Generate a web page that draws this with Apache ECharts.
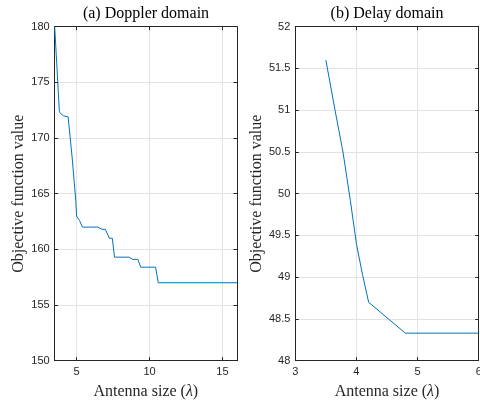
<!DOCTYPE html>
<html>
<head>
<meta charset="utf-8">
<script src="https://cdn.jsdelivr.net/npm/echarts@6/dist/echarts.min.js"></script>
<style>
  html, body { margin: 0; padding: 0; background: #fff; }
  #chart { width: 480px; height: 401px; }
</style>
</head>
<body>
<div id="chart"></div>
<script>
// Doppler-domain objective value versus antenna size (in wavelengths)
const dopplerSize  = [3.5, 3.82, 3.9, 4.1, 4.42, 4.7, 4.95, 5.0, 5.2, 5.4, 6.45, 6.75, 6.97, 7.25, 7.45, 7.6, 8.6, 8.85, 9.2, 9.4, 10.42, 10.6, 16];
const dopplerValue = [180, 172.4, 172.2, 172.0, 171.9, 168.2, 164.3, 163.0, 162.6, 162.0, 162.0, 161.8, 161.8, 161.0, 161.0, 159.3, 159.3, 159.1, 159.1, 158.4, 158.4, 157.0, 157.0];

// Delay-domain objective value versus antenna size
const delaySize  = [3.5, 3.65, 3.78, 3.9, 4.0, 4.1, 4.2, 4.8, 6];
const delayValue = [51.6, 51.0, 50.5, 49.92, 49.4, 49.03, 48.7, 48.33, 48.33];

// Tick values
const dopplerXTicks = [5, 10, 15];
const dopplerYTicks = [150, 155, 160, 165, 170, 175, 180];
const delayXTicks = [3, 4, 5, 6];
const delayYTicks = [48, 48.5, 49, 49.5, 50, 50.5, 51, 51.5, 52];

const titles = ['(a) Doppler domain', '(b) Delay domain'];
const xName = '{n|Antenna size (}{l|λ}{n|)}';
const yName = 'Objective function value';

const axisColor = '#262626';
const gridColor = '#e3e3e3';
const lineColor = '#0072BD';
const serif = '"Liberation Serif", "Times New Roman", serif';
const sans = '"Liberation Sans", Arial, Helvetica, sans-serif';

const grids = [
  { left: 54.7, top: 26.7, width: 182.3, height: 334, outerBoundsMode: 'none', containLabel: false },
  { left: 295.3, top: 26.7, width: 183.4, height: 334, outerBoundsMode: 'none', containLabel: false }
];

function xAxisPair(gi, min, max, ticks) {
  const base = {
    gridIndex: gi, type: 'value', min: min, max: max,
    axisLine: { show: true, onZero: false, lineStyle: { color: axisColor, width: 1 } },
    axisTick: { show: true, inside: true, length: 3.5, customValues: ticks, lineStyle: { color: axisColor } },
    axisLabel: { show: true, customValues: ticks, color: axisColor, fontFamily: sans, fontSize: 11, margin: 6, hideOverlap: false },
    splitLine: { show: true, lineStyle: { color: gridColor, width: 1 } }
  };
  const bottom = Object.assign({}, base, {
    position: 'bottom',
    name: xName, nameLocation: 'middle', nameGap: 23.5,
    nameTextStyle: {
      rich: {
        n: { fontFamily: serif, fontSize: 16, color: axisColor },
        l: { fontFamily: serif, fontSize: 16, fontStyle: 'italic', color: axisColor }
      }
    }
  });
  const top = Object.assign({}, base, {
    position: 'top',
    axisLabel: { show: false, customValues: ticks },
    splitLine: { show: false }
  });
  return [bottom, top];
}

function yAxisPair(gi, min, max, interval) {
  const base = {
    gridIndex: gi, type: 'value', min: min, max: max, interval: interval,
    axisLine: { show: true, onZero: false, lineStyle: { color: axisColor, width: 1 } },
    axisTick: { show: true, inside: true, length: 3.5, lineStyle: { color: axisColor } },
    axisLabel: { show: true, color: axisColor, fontFamily: sans, fontSize: 11, margin: 5 },
    splitLine: { show: true, lineStyle: { color: gridColor, width: 1 } }
  };
  const left = Object.assign({}, base, {
    position: 'left',
    name: yName, nameLocation: 'middle', nameGap: 28, nameRotate: 90,
    nameTextStyle: { fontFamily: serif, fontSize: 16, color: axisColor }
  });
  const right = Object.assign({}, base, {
    position: 'right',
    axisLabel: { show: false },
    splitLine: { show: false }
  });
  return [left, right];
}

const xa0 = xAxisPair(0, 3.5, 16, dopplerXTicks);
const xa1 = xAxisPair(1, delayXTicks[0], delayXTicks[delayXTicks.length - 1], delayXTicks);
const ya0 = yAxisPair(0, dopplerYTicks[0], dopplerYTicks[dopplerYTicks.length - 1], 5);
const ya1 = yAxisPair(1, delayYTicks[0], delayYTicks[delayYTicks.length - 1], 0.5);

const chart = echarts.init(document.getElementById('chart'), null, { renderer: 'canvas' });
chart.setOption({
  animation: false,
  backgroundColor: '#ffffff',
  graphic: [
    { type: 'text', x: 146, y: 14, silent: true,
      style: { text: titles[0], align: 'center', verticalAlign: 'middle',
               font: '16px ' + serif, fill: '#000' } },
    { type: 'text', x: 387, y: 14, silent: true,
      style: { text: titles[1], align: 'center', verticalAlign: 'middle',
               font: '16px ' + serif, fill: '#000' } }
  ],
  grid: grids,
  xAxis: [xa0[0], xa0[1], xa1[0], xa1[1]],
  yAxis: [ya0[0], ya0[1], ya1[0], ya1[1]],
  series: [
    {
      type: 'line', xAxisIndex: 0, yAxisIndex: 0, showSymbol: false,
      lineStyle: { color: lineColor, width: 1 },
      data: dopplerSize.map((x, i) => [x, dopplerValue[i]])
    },
    {
      type: 'line', xAxisIndex: 2, yAxisIndex: 2, showSymbol: false,
      lineStyle: { color: lineColor, width: 1 },
      data: delaySize.map((x, i) => [x, delayValue[i]])
    }
  ]
});
</script>
</body>
</html>
